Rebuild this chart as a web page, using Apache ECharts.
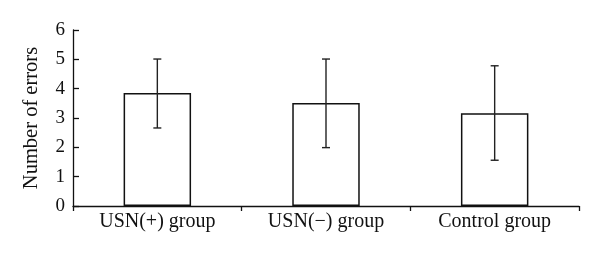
<!DOCTYPE html>
<html><head><meta charset="utf-8">
<script src="https://cdn.jsdelivr.net/npm/echarts@6/dist/echarts.min.js"></script>
<style>html,body{margin:0;padding:0;background:#fff}#c{width:600px;height:267px}</style>
</head><body><div id="c"></div>
<script>
const categories = ["USN(+) group", "USN(\u2212) group", "Control group"];
const means = [3.85, 3.51, 3.16];
const errLow = [2.66, 1.99, 1.56];
const errHigh = [5.01, 5.01, 4.78];
const yTicks = [0, 1, 2, 3, 4, 5, 6];

const FONT = "Liberation Serif";
const chart = echarts.init(document.getElementById('c'), null, {renderer: 'canvas'});
chart.setOption({
  animation: false,
  backgroundColor: '#fff',
  grid: {left: 73, right: 21, top: 30, bottom: 61},
  xAxis: {
    type: 'category', data: categories, boundaryGap: true,
    axisLine: {lineStyle: {color: '#111', width: 1.3}},
    axisTick: {show: true, inside: false, length: 5, lineStyle: {color: '#111', width: 1.3}},
    axisLabel: {color: '#111', fontFamily: FONT, fontSize: 20, margin: 6}
  },
  yAxis: {
    type: 'value', min: yTicks[0], max: yTicks[yTicks.length - 1], interval: 1,
    name: 'Number of errors', nameLocation: 'middle', nameGap: 31,
    nameTextStyle: {color: '#111', fontFamily: FONT, fontSize: 20.5},
    splitLine: {show: false},
    axisLine: {show: true, lineStyle: {color: '#111', width: 1.3}},
    axisTick: {show: true, inside: true, length: 6, lineStyle: {color: '#111', width: 1.3}},
    axisLabel: {color: '#111', fontFamily: FONT, fontSize: 19, margin: 8}
  },
  series: [
    {
      type: 'bar', data: means, barWidth: '40%',
      itemStyle: {color: '#fff', borderColor: '#111', borderWidth: 1.5}
    },
    {
      type: 'custom',
      data: categories.map((c, i) => [i, errLow[i], errHigh[i]]),
      renderItem: function (params, api) {
        const x = api.value(0);
        const lo = api.coord([x, api.value(1)]);
        const hi = api.coord([x, api.value(2)]);
        const hw = 4;
        const style = {stroke: '#222', lineWidth: 1.4};
        return {
          type: 'group',
          children: [
            {type: 'line', shape: {x1: hi[0], y1: hi[1], x2: lo[0], y2: lo[1]}, style},
            {type: 'line', shape: {x1: hi[0] - hw, y1: hi[1], x2: hi[0] + hw, y2: hi[1]}, style},
            {type: 'line', shape: {x1: lo[0] - hw, y1: lo[1], x2: lo[0] + hw, y2: lo[1]}, style}
          ]
        };
      },
      z: 10
    }
  ]
});
</script></body></html>
